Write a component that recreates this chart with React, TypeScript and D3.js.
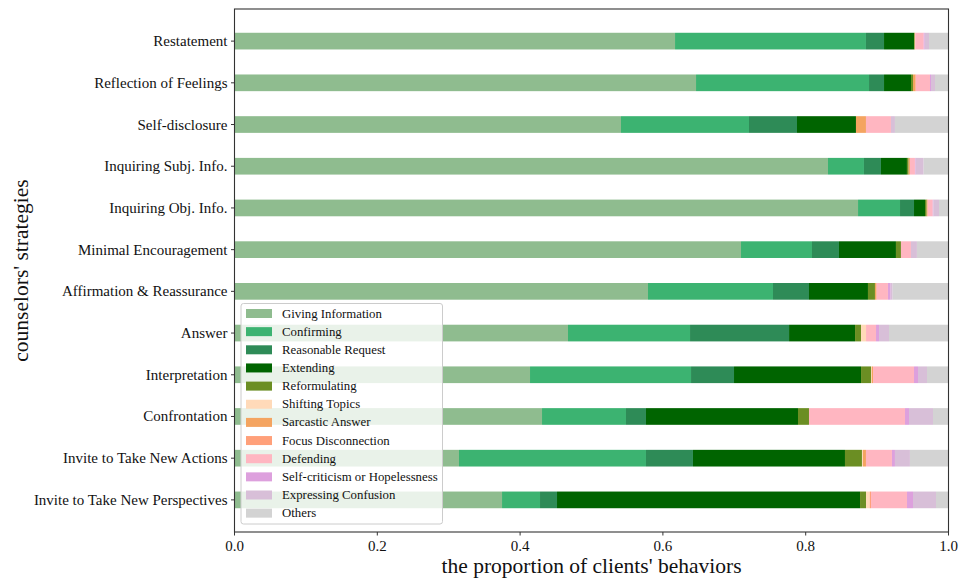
import React from "react";
import * as d3 from "d3";

// Counselor strategies (top to bottom)
const strategies = [
  "Restatement",
  "Reflection of Feelings",
  "Self-disclosure",
  "Inquiring Subj. Info.",
  "Inquiring Obj. Info.",
  "Minimal Encouragement",
  "Affirmation & Reassurance",
  "Answer",
  "Interpretation",
  "Confrontation",
  "Invite to Take New Actions",
  "Invite to Take New Perspectives",
];

// Client behaviour proportions, one array per behaviour, in strategy order
const givingInformation = [0.617, 0.6464, 0.5413, 0.8312, 0.8733, 0.7094, 0.5791, 0.4671, 0.4139, 0.4307, 0.3144, 0.3747];
const confirming = [0.2674, 0.2423, 0.1793, 0.0504, 0.0588, 0.0994, 0.1751, 0.1709, 0.2255, 0.1176, 0.2619, 0.0532];
const reasonableRequest = [0.0253, 0.021, 0.0672, 0.0238, 0.0196, 0.0378, 0.0504, 0.1387, 0.0602, 0.028, 0.0658, 0.0238];
const extending = [0.042, 0.0378, 0.0826, 0.0364, 0.0154, 0.0798, 0.0826, 0.0924, 0.1779, 0.2129, 0.2129, 0.4244];
const reformulating = [0.001, 0.0028, 0, 0.0024, 0.0024, 0.007, 0.0098, 0.0084, 0.014, 0.0154, 0.0238, 0.0084];
const shiftingTopics = [0, 0, 0, 0, 0, 0, 0, 0.007, 0.001, 0, 0.0014, 0.0052];
const sarcasticAnswer = [0.0008, 0.0038, 0.014, 0.0018, 0.0014, 0, 0.0024, 0, 0.0018, 0, 0.0042, 0];
const focusDisconnection = [0, 0, 0, 0, 0, 0, 0, 0, 0, 0, 0, 0.0018];
const defending = [0.0118, 0.02, 0.035, 0.007, 0.007, 0.014, 0.0158, 0.014, 0.0574, 0.1345, 0.0364, 0.0504];
const selfCriticism = [0.0014, 0.0014, 0, 0.001, 0.0008, 0, 0.0038, 0.0042, 0.0056, 0.0056, 0.0042, 0.0084];
const expressingConfusion = [0.006, 0.0056, 0.0056, 0.0112, 0.008, 0.0084, 0.0028, 0.014, 0.0126, 0.0336, 0.021, 0.0322];
const others = [0.0273, 0.0189, 0.075, 0.0348, 0.0133, 0.0442, 0.0782, 0.0833, 0.0301, 0.0217, 0.0539, 0.0175];

const behaviors = [
  "Giving Information",
  "Confirming",
  "Reasonable Request",
  "Extending",
  "Reformulating",
  "Shifting Topics",
  "Sarcastic Answer",
  "Focus Disconnection",
  "Defending",
  "Self-criticism or Hopelessness",
  "Expressing Confusion",
  "Others",
];

const behaviorValues = [
  givingInformation,
  confirming,
  reasonableRequest,
  extending,
  reformulating,
  shiftingTopics,
  sarcasticAnswer,
  focusDisconnection,
  defending,
  selfCriticism,
  expressingConfusion,
  others,
];

const behaviorColors = [
  "#8FBC8F",
  "#3CB371",
  "#2E8B57",
  "#006400",
  "#6B8E23",
  "#FFDAB9",
  "#F4A460",
  "#FFA07A",
  "#FFB6C1",
  "#DDA0DD",
  "#D8BFD8",
  "#D3D3D3",
];

const xTicks = [0, 0.2, 0.4, 0.6, 0.8, 1.0];

const W = 959;
const H = 578;
const left = 234.5;
const right = 948.5;
const top = 9;
const bottom = 532;
const font = "'Liberation Serif', 'Times New Roman', serif";
const barHeight = 0.4;

export default function App() {
  const rows = strategies.map((s, i) => {
    const r: Record<string, number | string> = { strategy: s };
    behaviors.forEach((b, k) => (r[b] = behaviorValues[k][i]));
    return r;
  });
  const stacked = d3.stack<any>().keys(behaviors)(rows as any);

  const x = d3.scaleLinear().domain([0, 1]).range([left, right]);
  const y = d3
    .scaleLinear()
    .domain([-0.5 - 0.27, strategies.length - 0.5 + 0.27])
    .range([top, bottom]);
  const bh = y(barHeight) - y(0);

  // legend layout
  const lgX = 241;
  const lgY = 303.5;
  const lgW = 201.5;
  const lgH = 220.5;
  const rowGap = 18.15;

  return (
    <svg
      width={W}
      height={H}
      style={{ position: "fixed", left: 0, top: 0, background: "#fff" }}
      fontFamily={font}
    >
      <rect x={0} y={0} width={W} height={H} fill="#fff" />
      {stacked.map((series, k) => (
        <g key={behaviors[k]} fill={behaviorColors[k]}>
          {series.map((d, i) =>
            d[1] - d[0] > 0 ? (
              <rect
                key={i}
                x={x(d[0])}
                y={y(i) - bh / 2}
                width={x(d[1]) - x(d[0])}
                height={bh}
              />
            ) : null
          )}
        </g>
      ))}

      {/* frame */}
      <rect
        x={left}
        y={top}
        width={right - left}
        height={bottom - top}
        fill="none"
        stroke="#333"
        strokeWidth={1.1}
      />

      {/* y ticks */}
      {strategies.map((s, i) => (
        <g key={s}>
          <line x1={left - 3.5} x2={left} y1={y(i)} y2={y(i)} stroke="#333" strokeWidth={1} />
          <text
            x={left - 7}
            y={y(i)}
            textAnchor="end"
            dominantBaseline="central"
            fontSize={15}
            fill="#111"
          >
            {s}
          </text>
        </g>
      ))}

      {/* x ticks */}
      {xTicks.map((t) => (
        <g key={t}>
          <line x1={x(t)} x2={x(t)} y1={bottom} y2={bottom + 3.5} stroke="#333" strokeWidth={1} />
          <text x={x(t)} y={bottom + 19} textAnchor="middle" fontSize={15} fill="#111">
            {d3.format(".1f")(t)}
          </text>
        </g>
      ))}

      <text
        x={(left + right) / 2}
        y={573}
        textAnchor="middle"
        fontSize={21.5}
        fill="#111"
      >
        the proportion of clients' behaviors
      </text>
      <text
        transform={`translate(28, ${(top + bottom) / 2}) rotate(-90)`}
        textAnchor="middle"
        fontSize={21.5}
        fill="#111"
      >
        counselors' strategies
      </text>

      {/* legend */}
      <rect
        x={lgX}
        y={lgY}
        width={lgW}
        height={lgH}
        rx={2.5}
        fill="#fff"
        fillOpacity={0.8}
        stroke="#cccccc"
        strokeWidth={1}
      />
      {behaviors.map((b, k) => {
        const cy = lgY + 10 + k * rowGap;
        return (
          <g key={b}>
            <rect x={246} y={cy - 4.5} width={26} height={9} fill={behaviorColors[k]} />
            <text x={282} y={cy} dominantBaseline="central" fontSize={12.8} fill="#111">
              {b}
            </text>
          </g>
        );
      })}
    </svg>
  );
}
